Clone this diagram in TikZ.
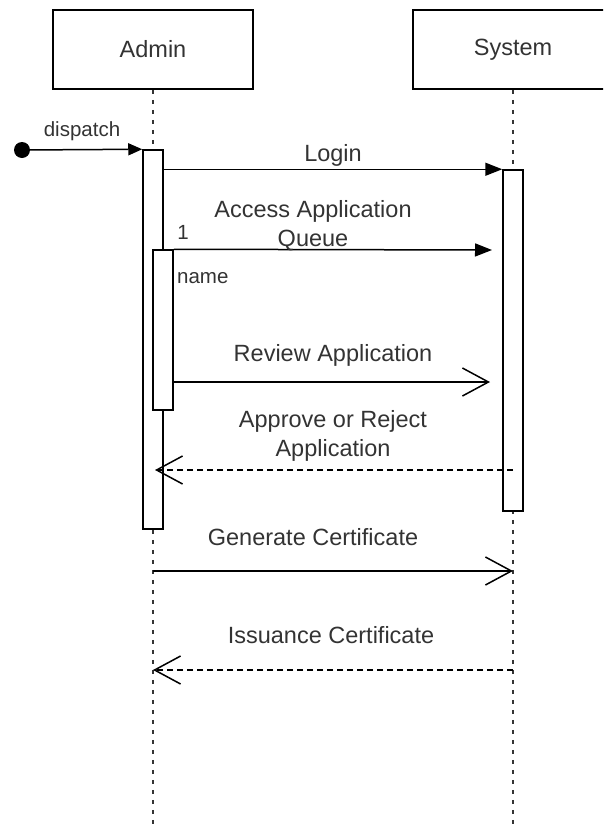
\documentclass[tikz,border=0pt]{standalone}
\usepackage{fontspec}
\setmainfont{Liberation Sans}
\usetikzlibrary{arrows.meta,positioning}
\tikzset{
  actor/.style={draw, line width=1.5pt, fill=white, minimum width=200pt, minimum height=79pt},
  bar/.style={draw, line width=1.5pt, fill=white, minimum width=20pt, inner sep=0pt},
  life/.style={line width=1.3pt, black!80, dash pattern=on 4pt off 6pt},
  call/.style={line width=1.5pt, -{Triangle[length=17pt,width=13pt]}},
  sync/.style={line width=1.5pt, -{Straight Barb[length=26pt,width=28pt]}},
  back/.style={sync, dash pattern=on 6pt off 4pt},
  lbl/.style={text=black!80, align=center, inner sep=0pt},
}
\begin{document}
\begin{tikzpicture}[x=1pt, y=-1pt, every node/.style={font=\fontsize{23.5}{29}\selectfont}]
  \clip (0,0) rectangle (603,830);
  % heads
  \node[actor, lbl, draw=black] (admin) at (153,49.5) {Admin};
  \node[actor, lbl, draw=black] (system) at (513,49.5) {System};
  % lifelines
  \coordinate (aend) at (153,830);
  \coordinate (send) at (513,830);
  \draw[life] (admin.south) -- (aend);
  \draw[life] (system.south) -- (send);
  % activations
  \node[bar, minimum height=379pt] (abar) at (153,339.5) {};
  \node[bar, minimum height=160pt] (ibar) at (163,330) {};
  \node[bar, minimum height=341pt] (sbar) at (513,340.5) {};
  % found message
  \node[circle, fill=black, minimum size=16pt, inner sep=0pt] (start) at (22,150) {};
  \draw[line width=1.5pt, -{Triangle[length=14pt,width=12pt]}] (start.center) -- (abar.north west);
  \node[lbl, font=\fontsize{20.5}{24}\selectfont] (ldispatch) at (82,131) {dispatch};
  % login
  \draw[call] (abar.east |- sbar.north) -- (sbar.north west);
  \node[lbl] (llogin) at (333,155) {Login};
  % queue
  \coordinate (qend) at (492,250);
  \draw[call] (ibar.north east) -- (qend);
  \node[lbl] (lqueue) at (313,226) {Access Application\\Queue};
  \node[lbl, font=\fontsize{20.5}{24}\selectfont] (lone) at (183,232) {1};
  \node[lbl, anchor=west, font=\fontsize{20.5}{24}\selectfont] (lname) at (177,278) {name};
  % review
  \coordinate (rstart) at (173,382);
  \coordinate (rend) at (490,382);
  \draw[sync] (rstart) -- (rend);
  \node[lbl] (lreview) at (333,355) {Review Application};
  % decision
  \coordinate (dstart) at (513,470);
  \coordinate (dend) at (155,470);
  \draw[back] (dstart) -- (dend);
  \node[lbl] (ldecide) at (333,436) {Approve or Reject\\Application};
  % certificate
  \coordinate (gstart) at (153,571);
  \coordinate (gend) at (513,571);
  \draw[sync] (gstart) -- (gend);
  \node[lbl] (lgen) at (313,537) {Generate Certificate};
  \coordinate (istart) at (513,670);
  \coordinate (iend) at (153,670);
  \draw[back] (istart) -- (iend);
  \node[lbl] (lissue) at (331,635) {Issuance Certificate};
\end{tikzpicture}
\end{document}
